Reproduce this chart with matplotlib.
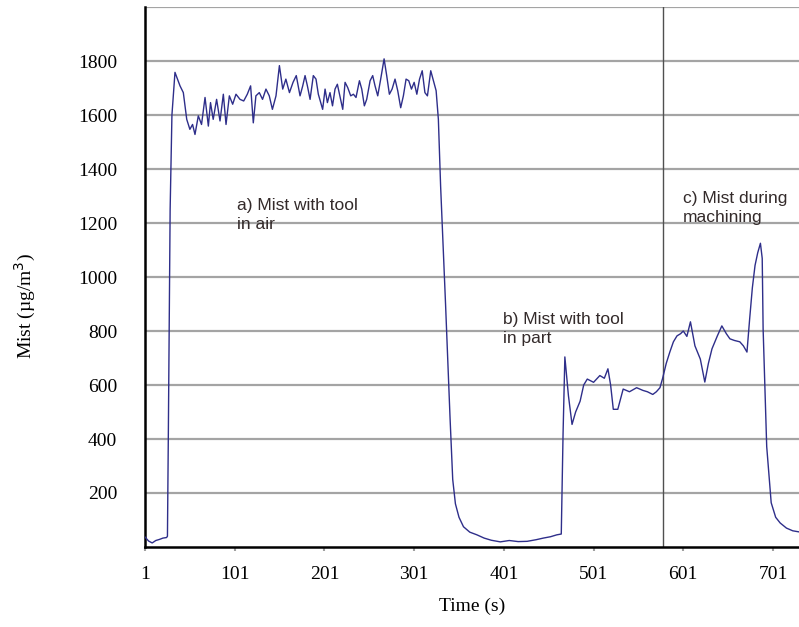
import matplotlib.pyplot as plt

# --- data (time in s, mist in ug/m3) ---
start_t = [0, 4, 8, 12, 16, 20, 24, 25]
start_v = [37, 22, 15, 24, 28, 33, 35, 40]

rise_t = [26, 28, 30, 33.4]
rise_v = [420, 1250, 1600, 1758]

plateau_t = [39, 42.7, 46.5, 50, 53, 55.7, 59.4, 63, 66.9, 70.6, 73, 76, 79.8, 83.6,
             87.3, 90.3, 94, 97.7, 101.4, 105.9, 110, 114, 117.7, 120.7, 123.6, 127.4,
             131, 134.8, 138.5, 142, 146, 149.8, 153.5, 157, 161, 165, 168.6, 172.8,
             175.8, 178.4, 181, 184, 187.6, 190.6, 193.2, 195.9, 198, 200.7, 203.3,
             206.2, 209, 211.8, 214.4, 217.2, 220.4, 223, 225.9, 229.3, 232.3, 235.2,
             239, 241.6, 244.5, 247.1, 250.9, 253.8, 256.4, 259.4, 262.7, 266.5, 269.4,
             272.4, 275.4, 278.7, 281.7, 285, 288, 291, 294, 297, 300, 303, 306, 309,
             312, 314.8, 318.5, 321.5, 324.5, 327]
plateau_v = [1708, 1683, 1584, 1547, 1565, 1528, 1597, 1565, 1665, 1559, 1646, 1584,
             1658, 1578, 1677, 1565, 1671, 1640, 1677, 1658, 1652, 1677, 1708, 1571,
             1671, 1683, 1658, 1696, 1671, 1621, 1671, 1783, 1696, 1733, 1683, 1721,
             1746, 1671, 1708, 1746, 1708, 1658, 1746, 1733, 1677, 1646, 1621, 1696,
             1646, 1683, 1634, 1696, 1714, 1671, 1621, 1721, 1702, 1671, 1677, 1665,
             1727, 1696, 1634, 1658, 1727, 1746, 1708, 1671, 1733, 1808, 1746, 1677,
             1696, 1733, 1690, 1627, 1671, 1733, 1727, 1696, 1721, 1677, 1733, 1764,
             1683, 1671, 1764, 1727, 1690, 1584]

fall_t = [329.5, 335, 340, 343, 346, 350, 355, 362, 370, 378, 386, 396, 406, 416, 426,
          436, 444, 452, 459, 464]
fall_v = [1337, 900, 480, 250, 160, 110, 75, 55, 45, 33, 25, 19, 24, 20, 21, 27, 33,
          38, 45, 48]

part_t = [466, 468, 472, 476, 480, 485, 489, 493, 500, 507, 512, 516, 519, 522, 527,
          533, 540, 548, 555, 560, 566, 570, 574]
part_v = [420, 704, 560, 454, 500, 540, 600, 622, 610, 635, 625, 660, 600, 510, 510,
          585, 575, 590, 580, 575, 565, 575, 590]

mach_t = [577, 581, 585, 589, 593, 597, 600, 604, 608, 613, 619, 624, 628, 632, 638,
          643, 648, 652, 657, 663, 667, 671, 674, 677, 680, 683, 686, 688, 689, 693,
          698, 703, 708, 715, 722, 729]
mach_v = [625, 680, 722, 760, 782, 790, 800, 780, 834, 745, 696, 611, 680, 734, 782,
          819, 790, 771, 765, 760, 745, 722, 845, 960, 1043, 1090, 1125, 1069, 808, 372,
          164, 110, 89, 70, 60, 56]

time_s = start_t + rise_t + plateau_t + fall_t + part_t + mach_t
mist = start_v + rise_v + plateau_v + fall_v + part_v + mach_v

y_ticks = [200, 400, 600, 800, 1000, 1200, 1400, 1600, 1800]
grid_levels = y_ticks + [2000]
x_ticks = [0, 100, 200, 300, 400, 500, 600, 700]
x_labels = ['1', '101', '201', '301', '401', '501', '601', '701']
marker_t = 577  # vertical marker line between segments

# --- figure ---
fig = plt.figure(figsize=(7.99, 6.27), dpi=100)
ax = fig.add_axes([0.1815, 0.1276, 0.8185, 0.8612])

for lvl in grid_levels:
    ax.axhline(lvl, color='#a4a4a4', lw=1.6, zorder=1)
ax.axvline(marker_t, color='#505050', lw=1.0, zorder=1)

ax.plot(time_s, mist, color='#2e2e8a', lw=1.0, zorder=3)

ax.set_xlim(0, 729)
ax.set_ylim(0, 2000)
ax.set_yticks(y_ticks)
ax.set_xticks(x_ticks)
ax.set_xticklabels(x_labels)

serif = ['Liberation Serif', 'DejaVu Serif']
for lab in ax.get_xticklabels() + ax.get_yticklabels():
    lab.set_family(serif)
    lab.set_fontsize(14)

ax.tick_params(axis='y', length=0, pad=20)
ax.tick_params(axis='x', length=3, color='#a0a0a0', width=1.5, pad=11)

for side in ['top', 'right']:
    ax.spines[side].set_visible(False)
ax.spines['left'].set_linewidth(1.8)
ax.spines['bottom'].set_linewidth(1.8)

ax.set_xlabel('Time (s)', family=serif, fontsize=14, labelpad=10)
fig.text(0.032, 0.512, 'Mist (µg/m$^3$)', family=serif, fontsize=14,
         rotation=90, ha='center', va='center')

# annotations
note_font = dict(family=['Liberation Sans Narrow', 'Liberation Sans'], fontsize=12.5,
                 color='#332a2a', va='top', linespacing=1.3)
ax.text(103, 1292, 'a) Mist with tool\nin air', **note_font)
ax.text(399, 870, 'b) Mist with tool\nin part', **note_font)
ax.text(600, 1318, 'c) Mist during\nmachining', **note_font)

fig.savefig('out.png', dpi=100)
